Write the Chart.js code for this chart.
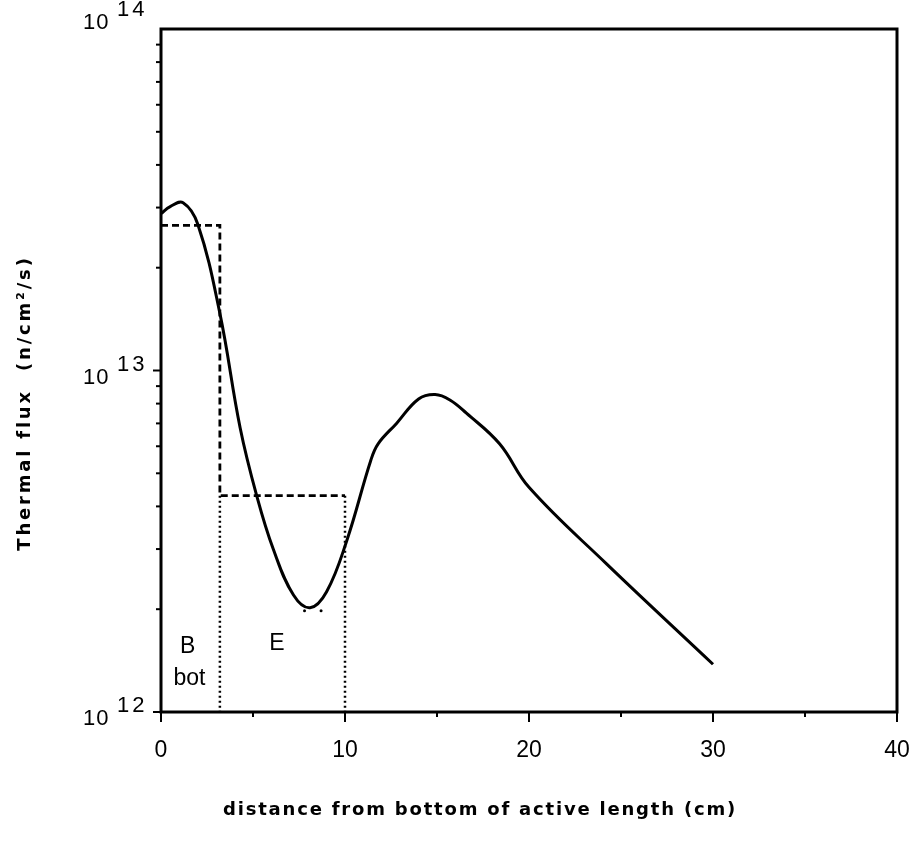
<!DOCTYPE html>
<html>
<head>
  <title>Thermal flux profile</title>
  <script src="https://cdn.jsdelivr.net/npm/chart.js"></script>
  <style>
    body { margin: 0; background: #fff; }
    canvas { display: block; }
  </style>
</head>
<body>
  <canvas id="fluxChart" width="917" height="853"></canvas>

  <script>
    // solid curve: thermal flux vs distance (cm)
    const fluxX = [0, 0.5, 1.2, 2.0, 3.2, 4.3, 5.2, 6.1, 7.2, 8.1, 9.0, 10.1, 11.4, 11.8, 12.8, 14.0, 14.9, 15.7, 16.6, 18.4, 20.0, 24.2, 30.0];
    const fluxY = [2.88e13, 3.02e13, 3.1e13, 2.68e13, 1.47e13, 6.8e12, 4.3e12, 3.0e12, 2.2e12, 2.02e12, 2.25e12, 3.18e12, 5.45e12, 6.1e12, 7.0e12, 8.25e12, 8.5e12, 8.2e12, 7.5e12, 6.1e12, 4.55e12, 2.72e12, 1.38e12];

    // dashed region averages
    const stepX = [0, 3.2, 3.2, 10];
    const stepY = [2.66e13, 2.66e13, 4.3e12, 4.3e12];

    // dotted region boundaries
    const leftEdgeX = [3.2, 3.2];
    const leftEdgeY = [4.3e12, 1e12];
    const rightEdgeX = [10, 10];
    const rightEdgeY = [4.3e12, 1e12];
    const minDotsX = [7.8, 8.7];
    const minDotsY = [1.98e12, 1.98e12];

    // region labels
    const regionText = ['B', 'bot', 'E'];
    const regionX = [1.45, 1.55, 6.3];
    const regionY = [1.55e12, 1.25e12, 1.59e12];

    const yTickExps = [12, 13, 14];
    const xTitle = 'distance from bottom of active length (cm)';
    const yTitle = 'Thermal flux  (n/cm\u00b2/s)';

    const pts = (xs, ys) => xs.map((x, i) => ({ x: x, y: ys[i] }));

    const frame = {
      id: 'frame',
      afterDraw(chart) {
        const { ctx, chartArea: a, scales: { x, y } } = chart;
        ctx.save();
        ctx.strokeStyle = '#000';
        ctx.fillStyle = '#000';
        ctx.lineWidth = 3;
        ctx.strokeRect(a.left, a.top, a.right - a.left, a.bottom - a.top);

        // x ticks, every 5 cm
        ctx.lineWidth = 2;
        for (let v = 0; v <= 40; v += 5) {
          const px = x.getPixelForValue(v);
          const len = v % 10 === 0 ? 10 : 5;
          ctx.beginPath();
          ctx.moveTo(px, a.bottom);
          ctx.lineTo(px, a.bottom + len);
          ctx.stroke();
        }

        // y log ticks
        for (let d = 12; d <= 13; d++) {
          for (let m = 1; m <= 9; m++) {
            const py = y.getPixelForValue(m * Math.pow(10, d));
            const len = m === 1 ? 8 : 5;
            ctx.beginPath();
            ctx.moveTo(a.left - len, py);
            ctx.lineTo(a.left, py);
            ctx.stroke();
          }
        }

        // y labels 10^n
        ctx.textAlign = 'left';
        ctx.textBaseline = 'alphabetic';
        yTickExps.forEach((e, i) => {
          const py = y.getPixelForValue(Math.pow(10, e));
          const off = i === yTickExps.length - 1 ? 0 : 13;
          ctx.font = '22px "Liberation Sans"';
          ctx.letterSpacing = '1px';
          ctx.fillText('10', 83, py + off);
          ctx.letterSpacing = '3px';
          ctx.fillText(String(e), 117, py + off - 13);
        });
        ctx.letterSpacing = '0px';

        // region labels
        ctx.font = '23px "Liberation Sans"';
        ctx.textAlign = 'center';
        ctx.textBaseline = 'middle';
        regionText.forEach((t, i) => {
          ctx.fillText(t, x.getPixelForValue(regionX[i]), y.getPixelForValue(regionY[i]));
        });

        // axis titles
        ctx.font = 'bold 18px "DejaVu Sans"';
        ctx.letterSpacing = '1.8px';
        ctx.fillText(xTitle, 480, 810);
        ctx.translate(25, 403);
        ctx.rotate(-Math.PI / 2);
        ctx.letterSpacing = '2.8px';
        ctx.fillText(yTitle, 0, 0);
        ctx.restore();
      }
    };

    new Chart(document.getElementById('fluxChart').getContext('2d'), {
      type: 'line',
      data: {
        datasets: [{
          data: pts(fluxX, fluxY),
          borderColor: '#000',
          borderWidth: 3,
          pointRadius: 0,
          tension: 0.4,
          fill: false
        }, {
          data: pts(stepX, stepY),
          borderColor: '#000',
          borderWidth: 2.8,
          borderDash: [7, 4],
          pointRadius: 0,
          tension: 0,
          fill: false
        }, {
          data: pts(leftEdgeX, leftEdgeY),
          borderColor: '#000',
          borderWidth: 2.5,
          borderDash: [2, 3],
          pointRadius: 0,
          fill: false
        }, {
          data: pts(rightEdgeX, rightEdgeY),
          borderColor: '#000',
          borderWidth: 2.5,
          borderDash: [2, 3],
          pointRadius: 0,
          fill: false
        }, {
          data: pts(minDotsX, minDotsY),
          showLine: false,
          pointRadius: 1.5,
          pointBackgroundColor: '#000',
          pointBorderWidth: 0
        }]
      },
      options: {
        responsive: false,
        animation: false,
        layout: { padding: { top: 29, right: 20, left: 0, bottom: 0 } },
        plugins: { legend: { display: false }, tooltip: { enabled: false } },
        scales: {
          x: {
            type: 'linear',
            min: 0,
            max: 40,
            grid: { display: false, drawTicks: false },
            border: { display: false },
            ticks: {
              stepSize: 10,
              padding: 25,
              color: '#000',
              font: { family: 'Liberation Sans', size: 23 }
            },
            afterFit: (scale) => {
              scale.height = 141;
              scale.paddingLeft = 0;
              scale.paddingRight = 0;
            }
          },
          y: {
            type: 'logarithmic',
            min: 1e12,
            max: 1e14,
            grid: { display: false, drawTicks: false },
            border: { display: false },
            ticks: { display: false },
            afterFit: (scale) => { scale.width = 161; }
          }
        }
      },
      plugins: [frame]
    });
  </script>
</body>
</html>
